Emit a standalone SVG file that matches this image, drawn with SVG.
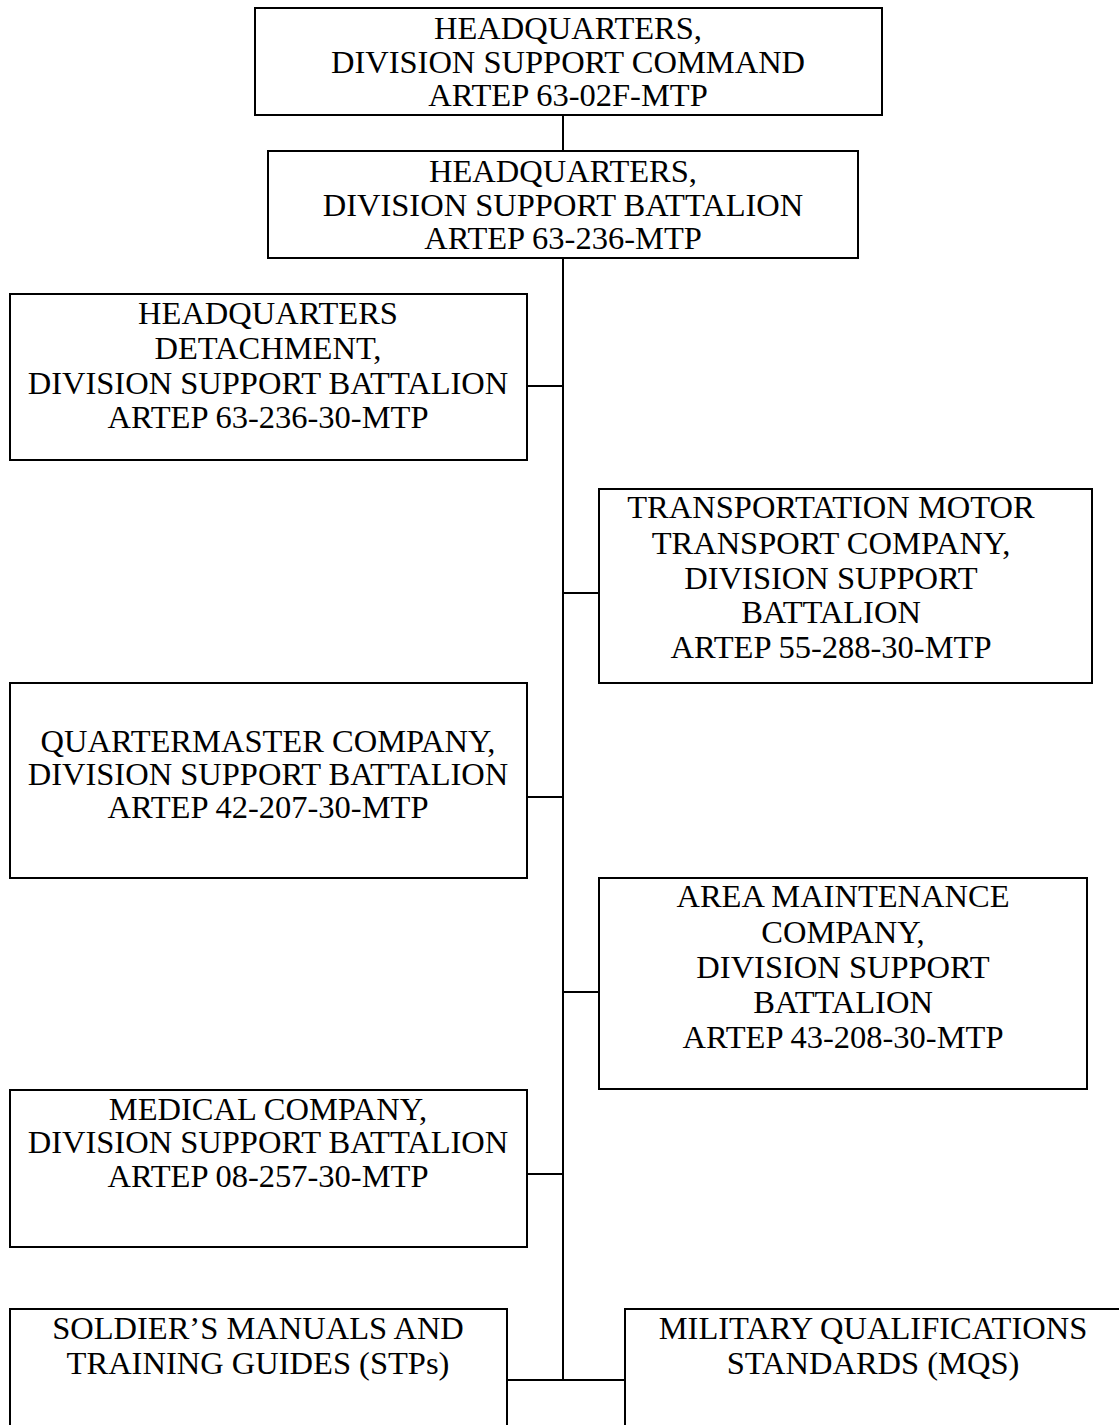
<svg xmlns="http://www.w3.org/2000/svg" width="1119" height="1425" viewBox="0 0 1119 1425">
<style>
.box{fill:#fff;stroke:#000;stroke-width:2}
.t{font-family:"Liberation Serif","Times New Roman",serif;font-size:32.5px;fill:#000;text-anchor:middle}
.c{fill:none;stroke:#000;stroke-width:2}
</style>
<rect width="1119" height="1425" fill="#fff"/>
<g id="connectors">
<path class="c" d="M563,115 V151"/>
<path class="c" d="M563,258 V1380"/>
<path class="c" d="M527,386 H563"/>
<path class="c" d="M563,593 H599"/>
<path class="c" d="M527,797 H563"/>
<path class="c" d="M563,992 H599"/>
<path class="c" d="M527,1174 H563"/>
<path class="c" d="M507,1380 H625"/>
</g>
<g id="hq-discom">
<rect class="box" x="255" y="8" width="627" height="107"/>
<text class="t" x="568" y="39">HEADQUARTERS,</text>
<text class="t" x="568" y="73">DIVISION SUPPORT COMMAND</text>
<text class="t" x="568" y="106">ARTEP 63-02F-MTP</text>
</g>
<g id="hq-dsb">
<rect class="box" x="268" y="151" width="590" height="107"/>
<text class="t" x="563" y="182">HEADQUARTERS,</text>
<text class="t" x="563" y="216">DIVISION SUPPORT BATTALION</text>
<text class="t" x="563" y="249">ARTEP 63-236-MTP</text>
</g>
<g id="hq-det">
<rect class="box" x="10" y="294" width="517" height="166"/>
<text class="t" x="268" y="324">HEADQUARTERS</text>
<text class="t" x="268" y="359">DETACHMENT,</text>
<text class="t" x="268" y="394">DIVISION SUPPORT BATTALION</text>
<text class="t" x="268" y="428">ARTEP 63-236-30-MTP</text>
</g>
<g id="transport">
<rect class="box" x="599" y="489" width="493" height="194"/>
<text class="t" x="831" y="518">TRANSPORTATION MOTOR</text>
<text class="t" x="831" y="554">TRANSPORT COMPANY,</text>
<text class="t" x="831" y="589">DIVISION SUPPORT</text>
<text class="t" x="831" y="623">BATTALION</text>
<text class="t" x="831" y="658">ARTEP 55-288-30-MTP</text>
</g>
<g id="quartermaster">
<rect class="box" x="10" y="683" width="517" height="195"/>
<text class="t" x="268" y="752">QUARTERMASTER COMPANY,</text>
<text class="t" x="268" y="785">DIVISION SUPPORT BATTALION</text>
<text class="t" x="268" y="818">ARTEP 42-207-30-MTP</text>
</g>
<g id="maintenance">
<rect class="box" x="599" y="878" width="488" height="211"/>
<text class="t" x="843" y="907">AREA MAINTENANCE</text>
<text class="t" x="843" y="943">COMPANY,</text>
<text class="t" x="843" y="978">DIVISION SUPPORT</text>
<text class="t" x="843" y="1013">BATTALION</text>
<text class="t" x="843" y="1048">ARTEP 43-208-30-MTP</text>
</g>
<g id="medical">
<rect class="box" x="10" y="1090" width="517" height="157"/>
<text class="t" x="268" y="1120">MEDICAL COMPANY,</text>
<text class="t" x="268" y="1153">DIVISION SUPPORT BATTALION</text>
<text class="t" x="268" y="1187">ARTEP 08-257-30-MTP</text>
</g>
<g id="stp">
<rect class="box" x="10" y="1309" width="497" height="140"/>
<text class="t" x="258" y="1339">SOLDIER’S MANUALS AND</text>
<text class="t" x="258" y="1374">TRAINING GUIDES (STPs)</text>
</g>
<g id="mqs">
<rect class="box" x="625" y="1309" width="510" height="140"/>
<text class="t" x="873" y="1339">MILITARY QUALIFICATIONS</text>
<text class="t" x="873" y="1374">STANDARDS (MQS)</text>
</g>
</svg>
